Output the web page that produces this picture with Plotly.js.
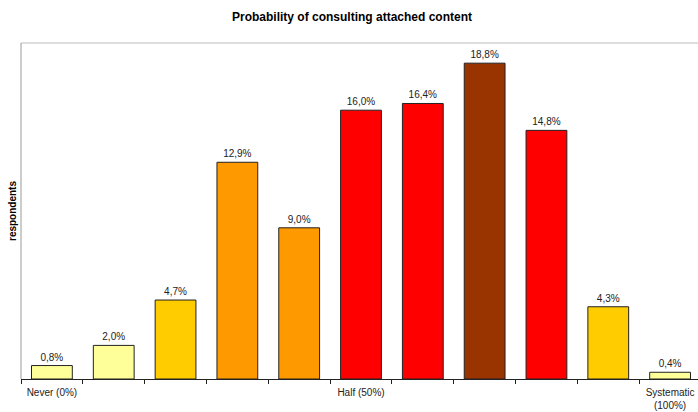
<!DOCTYPE html>
<html>
<head>
<meta charset="utf-8">
<script src="https://cdn.plot.ly/plotly-3.0.1.min.js"></script>
<style>
html,body{margin:0;padding:0;overflow:hidden;background:#fff;}
#chart{width:702px;height:412px;}
</style>
</head>
<body>
<div id="chart"></div>
<script>
const categories = ["c0","c1","c2","c3","c4","c5","c6","c7","c8","c9","c10"];
const tickLabels = ["Never (0%)","","","","","Half (50%)","","","","","Systematic<br>(100%)"];
const values = [0.8, 2.0, 4.7, 12.9, 9.0, 16.0, 16.4, 18.8, 14.8, 4.3, 0.4];
const barColors = ["#FFFF99","#FFFF99","#FFCC00","#FF9900","#FF9900","#FF0000","#FF0000","#993300","#FF0000","#FFCC00","#FFFF99"];

const labels = values.map(v => v.toFixed(1).replace('.', ',') + '%');

const trace = {
  type: 'bar',
  x: categories,
  y: values,
  text: labels,
  textposition: 'outside',
  cliponaxis: false,
  textfont: {family: 'Liberation Sans, Arial, sans-serif', size: 10, color: '#222'},
  marker: {color: barColors, line: {color: '#222', width: 1}},
  hoverinfo: 'none'
};

const layout = {
  width: 702, height: 412,
  margin: {l: 21, r: 1, t: 43, b: 33, pad: 0},
  paper_bgcolor: '#fff', plot_bgcolor: '#fff',
  bargap: 0.34,
  showlegend: false,
  font: {family: 'Liberation Sans, Arial, sans-serif', size: 10, color: '#222'},
  xaxis: {
    type: 'category',
    tickvals: categories,
    ticktext: tickLabels,
    tickson: 'boundaries',
    ticks: 'outside', ticklen: 4, tickcolor: '#222', tickwidth: 1,
    ticklabelstandoff: 4,
    showline: true, linecolor: '#222', linewidth: 1,
    showgrid: false, zeroline: false,
    tickfont: {size: 10, color: '#222'},
    fixedrange: true
  },
  yaxis: {
    range: [0, 20],
    showticklabels: false, ticks: '',
    showgrid: false, zeroline: false,
    showline: false,
    fixedrange: true
  },
  shapes: [
    {type: 'line', xref: 'paper', yref: 'paper', x0: 0, x1: 1, y0: 1, y1: 1, line: {color: '#BBBBBB', width: 1}},
    {type: 'line', xref: 'paper', yref: 'paper', x0: 0, x1: 0, y0: 0, y1: 1, line: {color: '#999999', width: 1}}
  ],
  annotations: [
    {text: '<b>Probability of consulting attached content</b>', xref: 'paper', yref: 'paper',
     x: 0.487, y: 1, yshift: 26, xanchor: 'center', yanchor: 'middle', showarrow: false,
     font: {size: 12, color: '#000'}},
    {text: '<b>respondents</b>', xref: 'paper', yref: 'paper', x: 0, xshift: -9, y: 0.5,
     xanchor: 'center', yanchor: 'middle', textangle: -90, showarrow: false,
     font: {size: 10, color: '#000'}}
  ]
};

Plotly.newPlot('chart', [trace], layout, {displayModeBar: false, staticPlot: true});
</script>
</body>
</html>
